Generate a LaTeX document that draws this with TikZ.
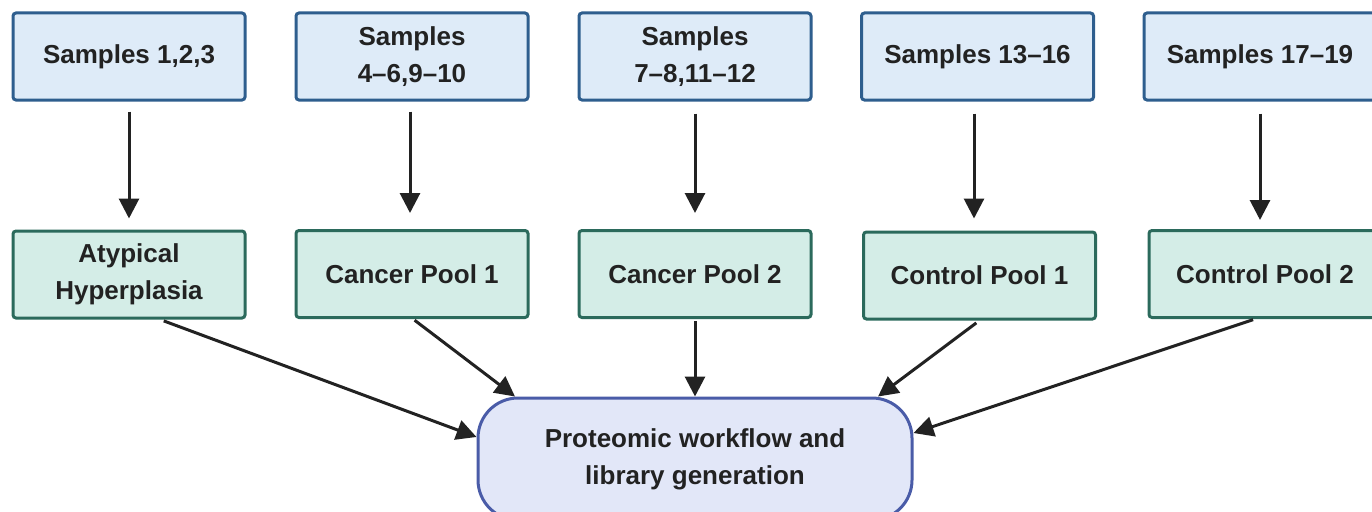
\documentclass[tikz,border=0pt]{standalone}
\usepackage{fontspec}
\setmainfont{Liberation Sans}
\usetikzlibrary{arrows.meta}
\definecolor{sfill}{HTML}{DEEBF8}
\definecolor{sdraw}{HTML}{2E5E8E}
\definecolor{pfill}{HTML}{D4EDE7}
\definecolor{pdraw}{HTML}{2B6A5C}
\definecolor{bfill}{HTML}{E2E7F8}
\definecolor{bdraw}{HTML}{4A5CA8}
\definecolor{txt}{HTML}{222222}
\definecolor{arr}{HTML}{222222}
\tikzset{
  sbox/.style={draw=sdraw, fill=sfill, line width=3pt, rounded corners=3pt,
    minimum width=232pt, minimum height=87pt, inner sep=0pt, align=center,
    text=txt, font=\fontsize{26}{37}\selectfont\bfseries},
  pbox/.style={draw=pdraw, fill=pfill, line width=3pt, rounded corners=3pt,
    minimum width=232pt, minimum height=87pt, inner sep=0pt, align=center,
    text=txt, font=\fontsize{26}{37}\selectfont\bfseries},
  bigbox/.style={draw=bdraw, fill=bfill, line width=3pt, rounded corners=40pt,
    minimum width=434pt, minimum height=122pt, inner sep=0pt, align=center,
    text=txt, font=\fontsize{26}{37}\selectfont\bfseries},
  conn/.style={draw=arr, line width=3pt, -{Triangle[width=20pt,length=20pt]}}
}
\begin{document}
\begin{tikzpicture}[x=1pt,y=-1pt]
\useasboundingbox (0,0) rectangle (1372,511);
\node[sbox] (s1) at (129,56.5) {Samples 1,2,3};
\node[sbox] (s2) at (412,56.5) {Samples\\4–6,9–10};
\node[sbox] (s3) at (695,56.5) {Samples\\7–8,11–12};
\node[sbox] (s4) at (977.5,56.5) {Samples 13–16};
\node[sbox] (s5) at (1260,56.5) {Samples 17–19};
\node[pbox] (p1) at (129,274.5) {Atypical\\Hyperplasia};
\node[pbox] (p2) at (412,274) {Cancer Pool 1};
\node[pbox] (p3) at (695,274) {Cancer Pool 2};
\node[pbox] (p4) at (979.5,275.5) {Control Pool 1};
\node[pbox] (p5) at (1265,274) {Control Pool 2};
\node[bigbox] (big) at (695,459) {Proteomic workflow and\\library generation};
\draw[conn, shorten <=10pt, shorten >=11pt] (s1.south) -- (s1.south |- p1.north);
\draw[conn, shorten <=10pt, shorten >=16pt] ([xshift=-2pt]s2.south) -- ([xshift=-2pt]s2.south |- p2.north);
\draw[conn, shorten <=12pt, shorten >=16pt] (s3.south) -- (s3.south |- p3.north);
\draw[conn, shorten <=12pt, shorten >=12pt] ([xshift=-3.5pt]s4.south) -- ([xshift=-3.5pt]s4.south |- p4.north);
\draw[conn, shorten <=12pt, shorten >=9pt] (s5.south) -- (s5.south |- p5.north);
\draw[conn, shorten <=4pt] ([xshift=31pt]p1.south) -- ([yshift=22pt]big.west);
\draw[conn, shorten <=2pt] ([xshift=1pt]p2.south) -- ([xshift=-180pt]big.north);
\draw[conn, shorten <=2pt] (p3.south) -- (big.north);
\draw[conn, shorten <=4pt] (p4.south) -- ([xshift=183pt]big.north);
\draw[conn, shorten <=2pt] ([xshift=-10pt]p5.south) -- ([yshift=26pt]big.east);
\end{tikzpicture}
\end{document}
